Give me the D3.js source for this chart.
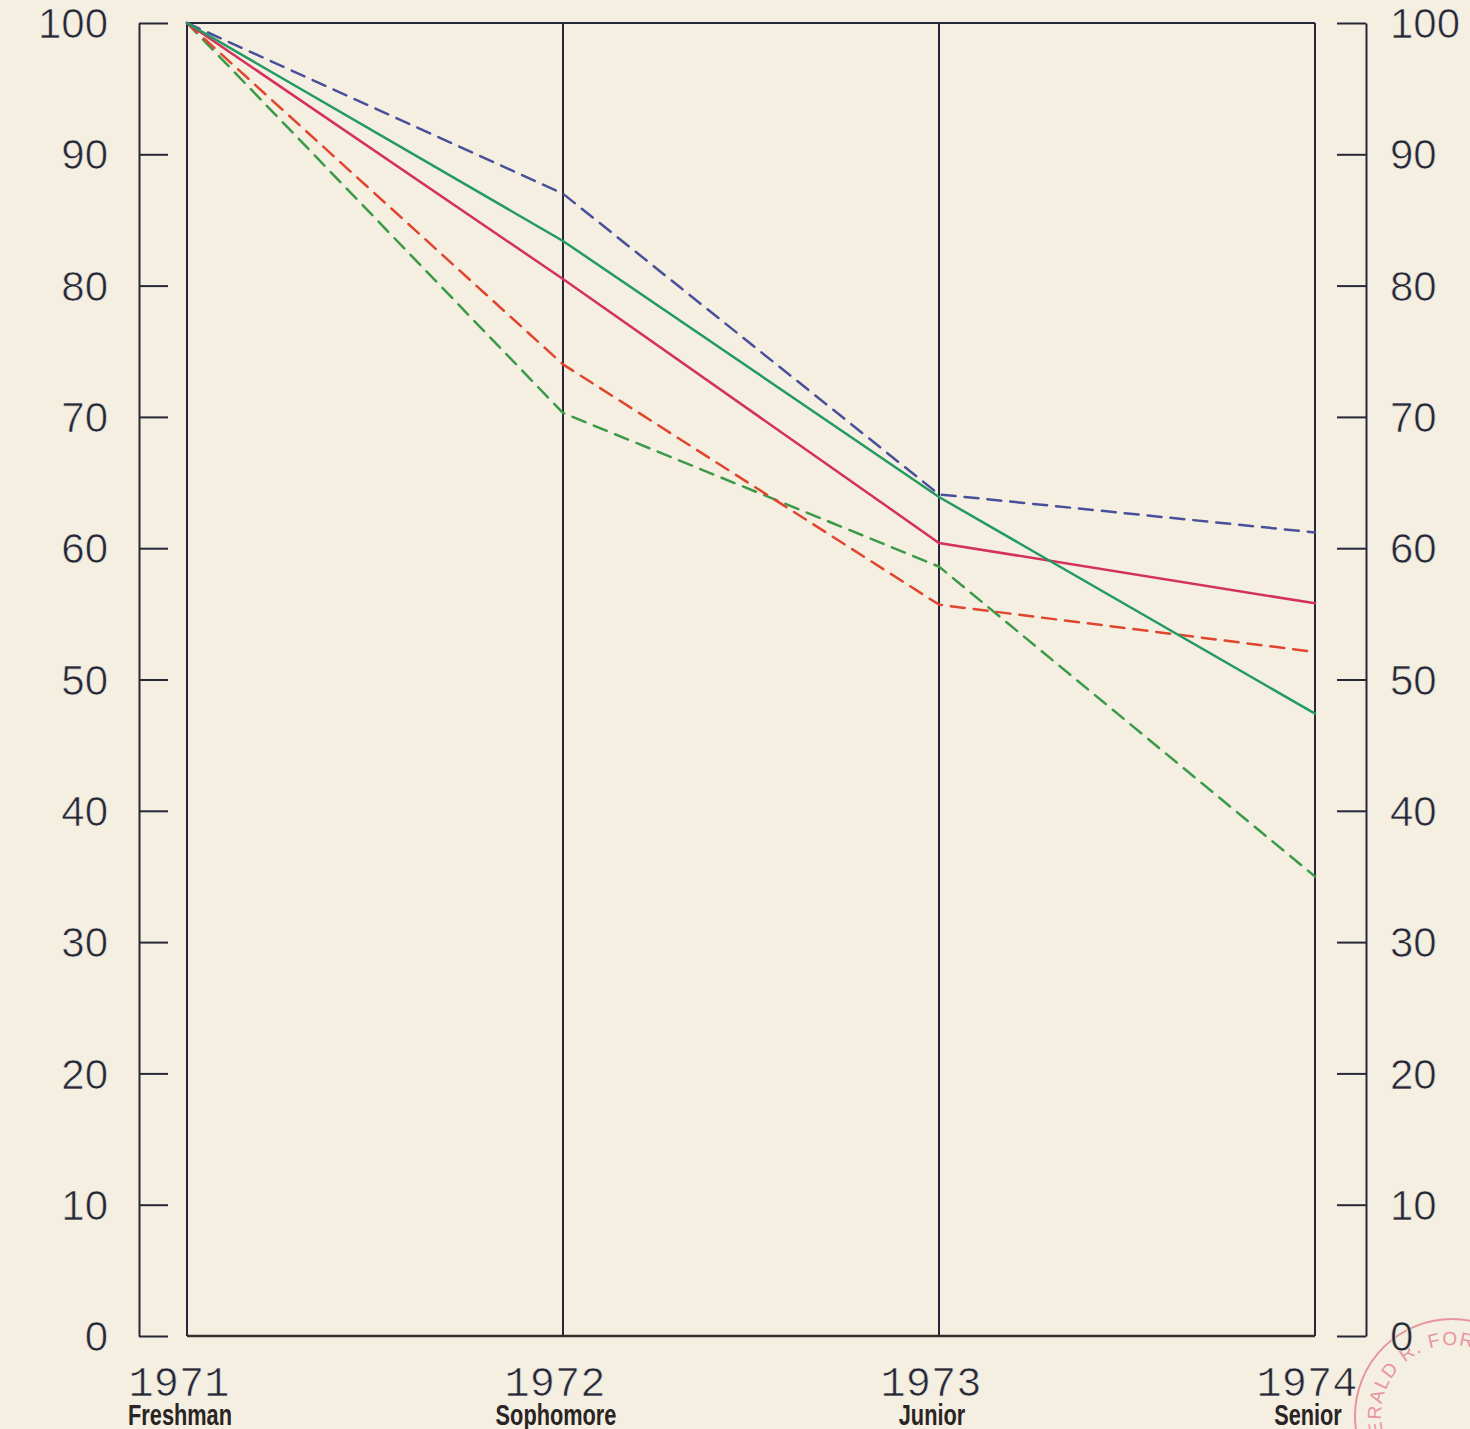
<!DOCTYPE html>
<html><head><meta charset="utf-8">
<script src="https://cdn.jsdelivr.net/npm/d3@7"></script>
<style>html,body{margin:0;padding:0;background:#f4efe1;}svg{display:block;}</style>
</head><body>
<svg id="chart" width="1470" height="1429"></svg>
<script>
const years = [1971, 1972, 1973, 1974];
const classLabels = ["Freshman", "Sophomore", "Junior", "Senior"];
const yTicks = [0, 10, 20, 30, 40, 50, 60, 70, 80, 90, 100];

const blueDashed  = [100, 87.0, 64.1, 61.2];
const greenSolid  = [100, 83.4, 63.9, 47.4];
const redSolid    = [100, 80.5, 60.4, 55.8];
const redDashed   = [100, 74.0, 55.7, 52.1];
const greenDashed = [100, 70.3, 58.6, 35.0];

const seriesList = [
  {values: greenDashed, color: "#3a9a48", dash: "14,9"},
  {values: redDashed,   color: "#e0452e", dash: "14,9"},
  {values: blueDashed,  color: "#4a4f9c", dash: "14,9"},
  {values: redSolid,    color: "#d4325a", dash: null},
  {values: greenSolid,  color: "#229a62", dash: null}
];

const bg = "#f4efe1";
const svg = d3.select("#chart");
const ink = "#262838";
const x = d3.scaleLinear().domain([1971, 1974]).range([187, 1315]);
const y = d3.scaleLinear().domain([0, 100]).range([1336, 23]);

// library stamp fragment (behind everything)
const stampColor = "#e8949e";
const stamp = svg.append("g");
stamp.append("circle").attr("cx", 1452).attr("cy", 1416).attr("r", 97)
  .attr("fill", "none").attr("stroke", stampColor).attr("stroke-width", 2);
svg.append("defs").append("path").attr("id", "stampArc")
  .attr("d", "M 1390.5,1451.5 A 71,71 0 1,1 1518.7,1391.7");
stamp.append("text").attr("font-family", "'Liberation Sans', sans-serif").attr("font-size", 19)
  .attr("fill", stampColor).attr("letter-spacing", 1.5)
  .append("textPath").attr("href", "#stampArc").attr("startOffset", 3).text("GERALD R. FORD");

// left axis
const leftAxis = d3.axisRight(y).tickValues(yTicks).tickSize(29).tickSizeOuter(0).tickFormat("");
const gL = svg.append("g").attr("transform", "translate(139,0)").call(leftAxis);
gL.selectAll("path,line").attr("stroke", ink).attr("stroke-width", 2);

// right axis
const rightAxis = d3.axisLeft(y).tickValues(yTicks).tickSize(29).tickSizeOuter(0).tickFormat("");
const gR = svg.append("g").attr("transform", "translate(1366,0)").call(rightAxis);
gR.selectAll("path,line").attr("stroke", ink).attr("stroke-width", 2);

// tick labels (slightly thinned glyphs via background-coloured stroke)
const numFont = "'Liberation Sans', Arial, sans-serif";
function thin(sel) {
  return sel.attr("stroke", bg).attr("stroke-width", 0.7).attr("paint-order", "fill");
}
thin(svg.append("g").selectAll("text").data(yTicks).join("text")
  .attr("x", 108).attr("y", d => y(d)).attr("dy", "0.36em")
  .attr("text-anchor", "end").attr("font-family", numFont).attr("font-size", 42)
  .attr("fill", ink).text(d => d));
thin(svg.append("g").selectAll("text").data(yTicks).join("text")
  .attr("x", 1390).attr("y", d => y(d)).attr("dy", "0.36em")
  .attr("text-anchor", "start").attr("font-family", numFont).attr("font-size", 42)
  .attr("fill", ink).text(d => d));

// plot frame and verticals
svg.append("g").selectAll("line").data(years).join("line")
  .attr("x1", d => x(d)).attr("x2", d => x(d)).attr("y1", y(100)).attr("y2", y(0))
  .attr("stroke", ink).attr("stroke-width", 2);
svg.append("line").attr("x1", x(1971)).attr("x2", x(1974)).attr("y1", y(100)).attr("y2", y(100))
  .attr("stroke", ink).attr("stroke-width", 2);
svg.append("line").attr("x1", x(1971)).attr("x2", x(1974)).attr("y1", y(0)).attr("y2", y(0))
  .attr("stroke", "#3a2a2a").attr("stroke-width", 2.4);

// year labels
thin(svg.append("g").selectAll("text").data(years).join("text")
  .attr("x", d => x(d) - 8).attr("y", 1396)
  .attr("text-anchor", "middle").attr("font-family", "'Liberation Mono', monospace")
  .attr("font-size", 42).attr("fill", ink).text(d => d));

// class labels (condensed bold)
svg.append("g").selectAll("text").data(classLabels).join("text")
  .attr("transform", (d, i) => `translate(${x(years[i]) - 7},1425) scale(0.75,1)`)
  .attr("text-anchor", "middle").attr("font-family", "'Liberation Sans', sans-serif")
  .attr("font-weight", "bold").attr("font-size", 29).attr("fill", "#2a2424").text(d => d);

// series
const line = d3.line().x((d, i) => x(years[i])).y(d => y(d));
svg.append("g").selectAll("path").data(seriesList).join("path")
  .attr("d", d => line(d.values)).attr("fill", "none")
  .attr("stroke", d => d.color).attr("stroke-width", 2.5)
  .attr("stroke-dasharray", d => d.dash).attr("stroke-linecap", "round");
</script>
</body></html>
